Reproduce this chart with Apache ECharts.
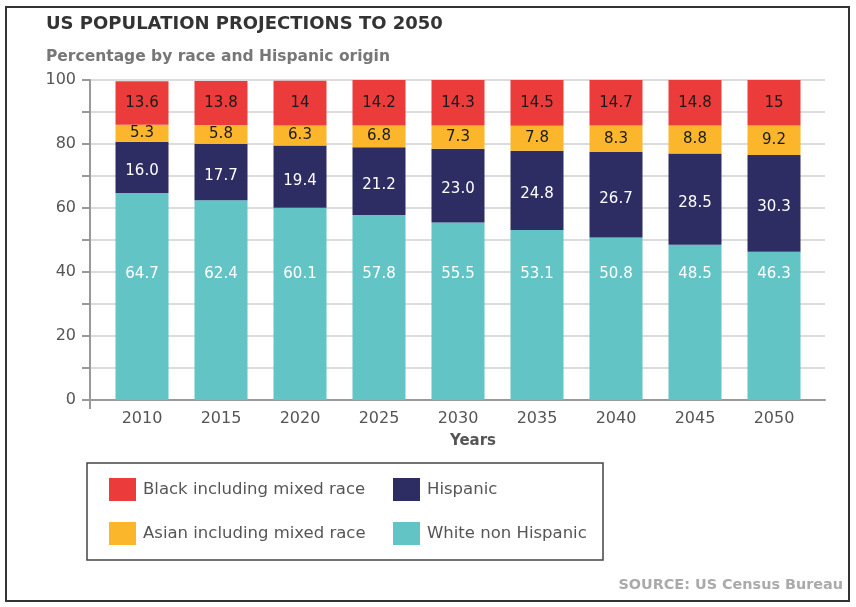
<!DOCTYPE html>
<html>
<head>
<meta charset="utf-8">
<script src="https://cdn.jsdelivr.net/npm/echarts@6/dist/echarts.min.js"></script>
<style>
  html, body { margin: 0; padding: 0; background: #fff; }
  #chart { width: 856px; height: 607px; }
</style>
</head>
<body>
<div id="chart"></div>
<script>
const years = ['2010', '2015', '2020', '2025', '2030', '2035', '2040', '2045', '2050'];
const whiteNonHispanic = [64.7, 62.4, 60.1, 57.8, 55.5, 53.1, 50.8, 48.5, 46.3];
const hispanic = [16.0, 17.7, 19.4, 21.2, 23.0, 24.8, 26.7, 28.5, 30.3];
const asian = [5.3, 5.8, 6.3, 6.8, 7.3, 7.8, 8.3, 8.8, 9.2];
const black = [13.6, 13.8, 14, 14.2, 14.3, 14.5, 14.7, 14.8, 15];

const FONT = 'DejaVu Sans';
const chart = echarts.init(document.getElementById('chart'), null, { renderer: 'canvas' });

const labelBase = { show: true, fontFamily: FONT, fontSize: 15 };

const option = {
  animation: false,
  backgroundColor: '#fff',
  grid: [
    { left: 90, right: 31, top: 80, bottom: 207 },
    { left: 102.5, right: 42.5, top: 80, bottom: 207 }
  ],
  xAxis: [
    {
      gridIndex: 0, type: 'value', min: 0, max: 1,
      axisLine: { show: true, lineStyle: { color: '#999', width: 2 } },
      axisTick: { show: true, customValues: [0], length: 9, lineStyle: { color: '#999', width: 2 } },
      axisLabel: { show: false },
      splitLine: { show: false }
    },
    {
      gridIndex: 1, type: 'category', data: years,
      axisLine: { show: false }, axisTick: { show: false },
      axisLabel: { color: '#555', fontSize: 16, fontFamily: FONT, margin: 11 }
    }
  ],
  yAxis: [
    {
      gridIndex: 0, type: 'value', min: 0, max: 100, interval: 10,
      axisLine: { show: true, lineStyle: { color: '#999', width: 2 } },
      axisTick: { show: true, length: 8, lineStyle: { color: '#999', width: 2 } },
      axisLabel: {
        formatter: v => (v % 20 === 0 ? String(v) : ''),
        color: '#555', fontSize: 16, fontFamily: FONT, margin: 14
      },
      splitLine: { show: true, lineStyle: { color: '#dcdcdc', width: 2 } }
    },
    { gridIndex: 1, type: 'value', min: 0, max: 100, show: false }
  ],
  legend: [
    {
      orient: 'vertical', left: 104, top: 473, itemWidth: 27, itemHeight: 23, itemGap: 21,
      icon: 'rect', data: ['Black including mixed race', 'Asian including mixed race'],
      textStyle: { fontFamily: FONT, fontSize: 16.5, color: '#555', padding: [0, 0, 0, 2] }
    },
    {
      orient: 'vertical', left: 388, top: 473, itemWidth: 27, itemHeight: 23, itemGap: 21,
      icon: 'rect', data: ['Hispanic', 'White non Hispanic'],
      textStyle: { fontFamily: FONT, fontSize: 16.5, color: '#555', padding: [0, 0, 0, 2] }
    }
  ],
  series: [
    {
      name: 'White non Hispanic', type: 'bar', stack: 'pop', xAxisIndex: 1, yAxisIndex: 1,
      barWidth: 53, data: whiteNonHispanic, itemStyle: { color: '#63c4c6' },
      label: Object.assign({}, labelBase, { position: 'insideBottom', distance: 118, color: '#fff' })
    },
    {
      name: 'Hispanic', type: 'bar', stack: 'pop', xAxisIndex: 1, yAxisIndex: 1,
      barWidth: 53, data: hispanic, itemStyle: { color: '#2e2d63' },
      label: Object.assign({}, labelBase, { position: 'inside', offset: [0, 4], color: '#fff',
        formatter: p => Number(p.value).toFixed(1) })
    },
    {
      name: 'Asian including mixed race', type: 'bar', stack: 'pop', xAxisIndex: 1, yAxisIndex: 1,
      barWidth: 53, data: asian, itemStyle: { color: '#fbb62b' },
      label: Object.assign({}, labelBase, { position: 'inside', color: '#1a1a1a' })
    },
    {
      name: 'Black including mixed race', type: 'bar', stack: 'pop', xAxisIndex: 1, yAxisIndex: 1,
      barWidth: 53, data: black, itemStyle: { color: '#ec3b3b' },
      label: Object.assign({}, labelBase, { position: 'inside', color: '#1a1a1a' })
    }
  ],
  graphic: [
    { type: 'rect', shape: { x: 6, y: 7, width: 843, height: 594 },
      style: { fill: 'none', stroke: '#333', lineWidth: 2 }, silent: true },
    { type: 'rect', shape: { x: 87, y: 463, width: 516, height: 97 },
      style: { fill: 'none', stroke: '#444', lineWidth: 1.5 }, silent: true },
    { type: 'text', x: 46, y: 24,
      style: { text: 'US POPULATION PROJECTIONS TO 2050', font: 'bold 18px "DejaVu Sans"',
        fill: '#333', textVerticalAlign: 'middle', verticalAlign: 'middle' } },
    { type: 'text', x: 46, y: 57,
      style: { text: 'Percentage by race and Hispanic origin', font: 'bold 15.5px "DejaVu Sans"',
        fill: '#777', textVerticalAlign: 'middle', verticalAlign: 'middle' } },
    { type: 'text', x: 473, y: 441,
      style: { text: 'Years', font: 'bold 15px "DejaVu Sans"', fill: '#555',
        align: 'center', textAlign: 'center', textVerticalAlign: 'middle', verticalAlign: 'middle' } },
    { type: 'text', x: 843, y: 585,
      style: { text: 'SOURCE: US Census Bureau', font: 'bold 14.4px "DejaVu Sans"', fill: '#aaa',
        align: 'right', textAlign: 'right', textVerticalAlign: 'middle', verticalAlign: 'middle' } }
  ]
};

chart.setOption(option);
</script>
</body>
</html>
